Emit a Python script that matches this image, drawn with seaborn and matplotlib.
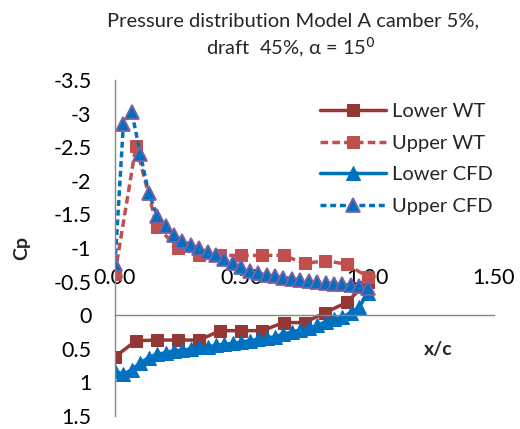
import numpy as np
import pandas as pd
import matplotlib
matplotlib.use("Agg")
import matplotlib.pyplot as plt
import seaborn as sns

# ---- data ----
x_wt = [0.0, 0.083, 0.167, 0.25, 0.333, 0.417, 0.5, 0.583, 0.667, 0.75, 0.833, 0.917, 1.0]
lower_wt = [0.62, 0.38, 0.37, 0.37, 0.37, 0.23, 0.23, 0.23, 0.11, 0.11, -0.04, -0.19, -0.50]
upper_wt = [-0.62, -2.52, -1.31, -1.00, -0.90, -0.89, -0.89, -0.89, -0.89, -0.77, -0.81, -0.76, -0.57]

x_cfd = [i / 30 for i in range(31)]
lower_cfd = [0.83, 0.88, 0.81, 0.71, 0.63, 0.58, 0.56, 0.53, 0.52, 0.50, 0.48,
             0.47, 0.45, 0.43, 0.42, 0.40, 0.38, 0.36, 0.34, 0.32, 0.28,
             0.25, 0.22, 0.19, 0.15, 0.10, 0.06, 0.03, -0.04, -0.12, -0.33]
upper_cfd = [-0.76, -2.85, -3.02, -2.40, -1.82, -1.48, -1.32, -1.20, -1.11, -1.04, -1.00,
             -0.94, -0.89, -0.83, -0.78, -0.71, -0.66, -0.63, -0.60, -0.58, -0.56,
             -0.545, -0.53, -0.51, -0.50, -0.485, -0.47, -0.46, -0.445, -0.43, -0.41]

x_ticks = [0.0, 0.5, 1.0, 1.5]
x_tick_labels = ["0.00", "0.50", "1.00", "1.50"]
y_ticks = [-3.5, -3, -2.5, -2, -1.5, -1, -0.5, 0, 0.5, 1, 1.5]
y_tick_labels = ["-3.5", "-3", "-2.5", "-2", "-1.5", "-1", "-0.5", "0", "0.5", "1", "1.5"]

sns.set_style("white")
plt.rcParams["font.family"] = ["Lato", "DejaVu Sans"]

fig = plt.figure(figsize=(5.2, 4.29), dpi=100)
W, H = 520, 429
L, R, T, B = 115, 494, 80, 416
ax = fig.add_axes([L / W, 1 - B / H, (R - L) / W, (B - T) / H])

df_lwt = pd.DataFrame({"x": x_wt, "cp": lower_wt})
df_uwt = pd.DataFrame({"x": x_wt, "cp": upper_wt})
df_lcfd = pd.DataFrame({"x": x_cfd, "cp": lower_cfd})
df_ucfd = pd.DataFrame({"x": x_cfd, "cp": upper_cfd})

lw = 2.5
sq = 9
tri = 9.8
sns.lineplot(data=df_lwt, x="x", y="cp", ax=ax, sort=False, color="#953735", lw=lw,
             marker="s", markersize=sq, markeredgecolor="#953735", label="Lower WT")
sns.lineplot(data=df_uwt, x="x", y="cp", ax=ax, sort=False, color="#C0504D", lw=lw,
             linestyle=(0, (2.2, 1.2)), marker="s", markersize=sq,
             markeredgecolor="#C0504D", label="Upper WT")
sns.lineplot(data=df_lcfd, x="x", y="cp", ax=ax, sort=False, color="#0070C0", lw=lw,
             marker="^", markersize=tri, markeredgecolor="#0070C0", label="Lower CFD")
sns.lineplot(data=df_ucfd, x="x", y="cp", ax=ax, sort=False, color="#0070C0", lw=lw,
             linestyle=(0, (1.7, 1.1)), marker="^", markersize=tri,
             markeredgecolor="#7F60A0", markeredgewidth=1.3, label="Upper CFD")

ax.set_xlim(0, 1.5)
ax.set_ylim(1.5, -3.5)

ax.set_xticks(x_ticks)
ax.set_xticklabels(x_tick_labels)
ax.set_yticks(y_ticks)
ax.set_yticklabels(y_tick_labels)

for s in ["right", "bottom"]:
    ax.spines[s].set_visible(False)
ax.spines["top"].set_position(("data", 0))
ax.spines["top"].set_color("#868686")
ax.spines["left"].set_color("#868686")
ax.spines["top"].set_linewidth(1.0)
ax.spines["left"].set_linewidth(1.0)
ax.xaxis.set_ticks_position("top")
ax.tick_params(axis="x", length=0, pad=19.5, labelsize=15.5, colors="black")
ax.tick_params(axis="y", length=0, pad=17, labelsize=15.5, colors="black")
ax.patch.set_alpha(0)

ax.set_xlabel("x/c", fontsize=14, fontweight="bold")
ax.xaxis.set_label_position("top")
ax.xaxis.label.set_va("center")
ax.xaxis.set_label_coords((438 - L) / (R - L), (B - 350) / (B - T))
ax.set_ylabel("Cp", fontsize=14, fontweight="bold")
ax.yaxis.label.set_va("center")
ax.yaxis.set_label_coords((22 - L) / (R - L), 0.5)

fig.text(293 / W, 1 - 21 / H, "Pressure distribution Model A camber 5%,",
         ha="center", va="center", fontsize=14.5)
fig.text(291 / W, 1 - 48 / H, r"draft  45%, α = 15$^0$",
         ha="center", va="center", fontsize=14.5)

leg = ax.legend(loc="upper left", bbox_to_anchor=(320 / W, 1 - 103 / H),
                bbox_transform=fig.transFigure, frameon=False, fontsize=14.5,
                handlelength=3.3, handletextpad=0.3, labelspacing=0.72,
                borderaxespad=0, borderpad=0)

fig.savefig("out.png", dpi=100)
